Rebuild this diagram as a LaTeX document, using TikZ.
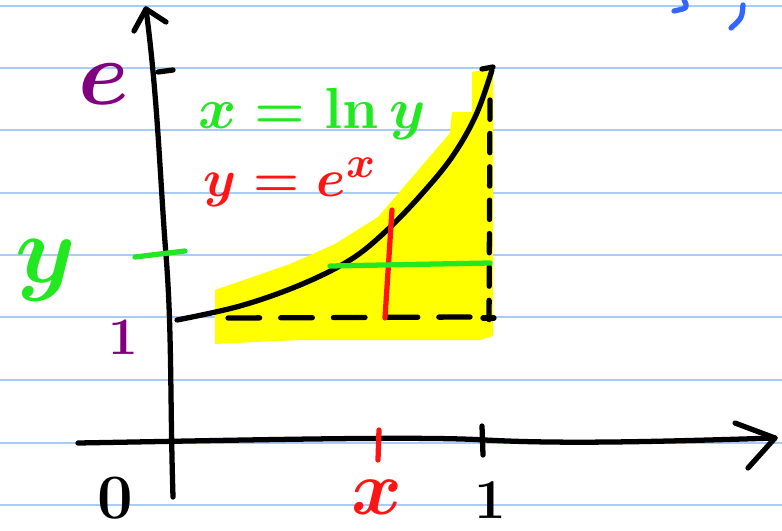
\documentclass[tikz,border=0pt]{standalone}
\usetikzlibrary{arrows.meta}
\definecolor{rule}{HTML}{A9CCF7}
\definecolor{hlyellow}{HTML}{FFFF00}
\definecolor{pgreen}{HTML}{22E822}
\definecolor{pred}{HTML}{FF1414}
\definecolor{ppurple}{HTML}{800080}
\definecolor{pblue}{HTML}{3366FF}
\tikzset{
  ink/.style={line width=3pt, line cap=round, line join=round},
  ruling/.style={rule, line width=1.2pt},
  lab/.style={inner sep=0pt},
  fs/.style={font=\Huge\boldmath, scale=#1/24.88},
}
\begin{document}
\begin{tikzpicture}[x=0.02cm, y=-0.02cm]
\useasboundingbox (0,0) rectangle (782,531);
% ruled paper
\foreach \yy in {6,68,130,193,255,317,380,443,505}
  \draw[ruling] (0,\yy) -- (782,\yy);
% highlighted region
\fill[hlyellow] (215,290) -- (290,264) -- (335,244) -- (378,217) -- (450,133)
  -- (452,112) -- (472,112) -- (472,72) -- (493,68) -- (493,336)
  -- (480,340) -- (300,340) -- (215,344) -- cycle;
% blue marks at top right
\draw[ink, pblue] (684,0) .. controls (688,8) .. (674,11);
\draw[ink, pblue] (743,5) .. controls (742,18) .. (731,28);
% y axis
\coordinate (ybot) at (173,497);
\coordinate (ytop) at (146,9);
\draw[ink] (ybot) .. controls (170,400) and (172,330) .. (166,255)
  .. controls (160,180) and (158,100) .. (ytop);
\draw[ink] (134,31) -- (ytop) -- (166,22);
% x axis
\coordinate (xl) at (78,443);
\coordinate (xr) at (775,438);
\draw[ink] (xl) .. controls (250,440) and (420,436) .. (485,440)
  .. controls (560,444) and (650,442) .. (xr);
\draw[ink] (735,423) -- (xr) -- (748,468);
% ticks
\draw[ink] (158,72) -- (173,70);
\draw[ink, pgreen] (135,257) -- (185,251);
\draw[ink, pred] (379,430) -- (378,460);
\draw[ink] (482,426) -- (483,455);
% curve y = e^x
\draw[ink] (177,320) plot[smooth, tension=0.6] coordinates {(177,320) (240,306) (300,285) (350,260) (385,232) (420,196) (452,157) (476,115) (492,70)};
\draw[ink] (482,69) -- (493,67);
% dashed lines
\draw[ink, dash pattern=on 18pt off 12pt] (228,318) -- (470,317);
\draw[ink, dash pattern=on 11pt off 8pt] (490,100) -- (489,330);
\draw[ink] (483,318) -- (494,318);
% red vertical and green horizontal
\draw[ink, pred] (392,210) -- (385,318);
\draw[ink, pgreen] (330,266) -- (490,263);
% labels
\node[lab, fs=52, ppurple] (le) at (104,84) {$e$};
\node[lab, fs=55, pgreen] (ly) at (46,270) {$y$};
\node[lab, fs=30, ppurple] (l1) at (123,338) {$1$};
\node[lab, fs=36, black] (l0) at (115,498) {$0$};
\node[lab, fs=44, pred] (lx) at (377,497) {$x$};
\node[lab, fs=32, black] (lone) at (490,500) {$1$};
\node[lab, fs=33, pgreen] (eq1) at (312,114) {$x=\ln y$};
\node[lab, fs=30, pred] (eq2) at (290,182) {$y=e^{x}$};
\end{tikzpicture}
\end{document}
